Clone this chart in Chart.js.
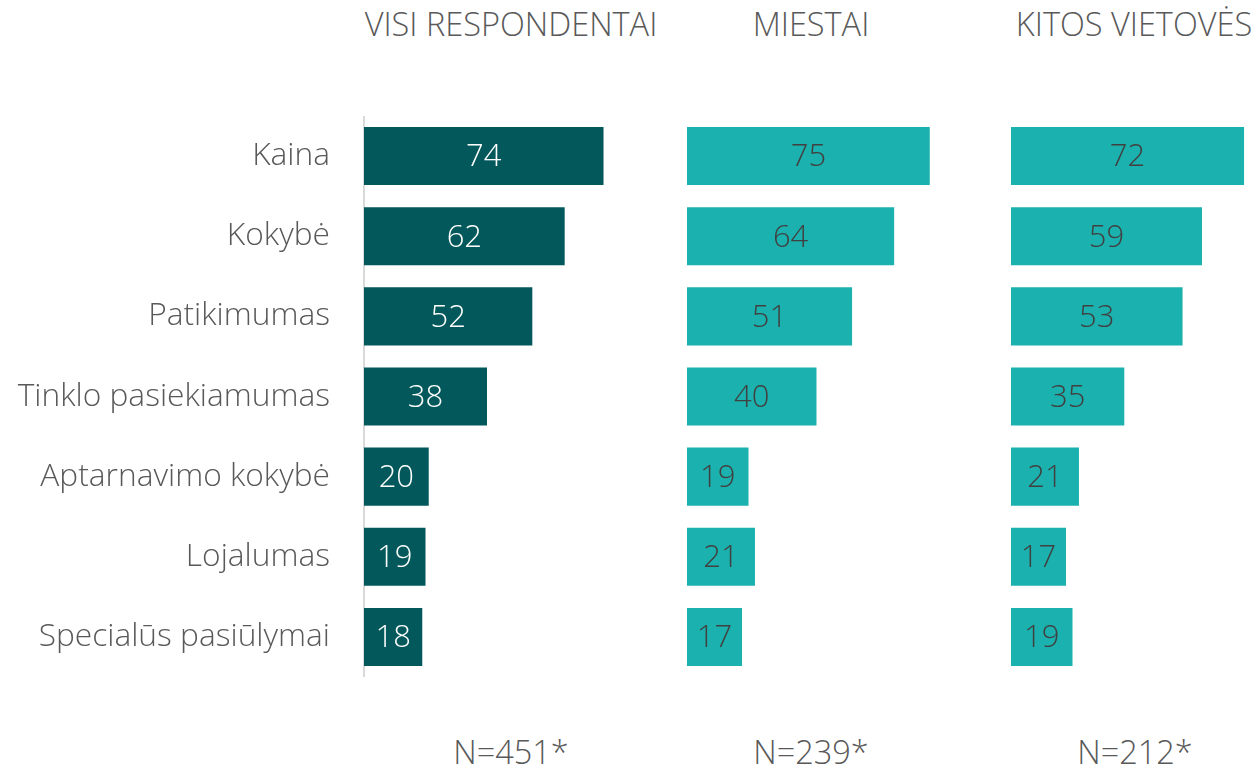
<!DOCTYPE html>
<html>
<head>
<meta charset="utf-8">
<script src="https://cdn.jsdelivr.net/npm/chart.js@4.4.1/dist/chart.umd.min.js"></script>
<style>
  body { margin: 0; background: #fff; width: 1258px; height: 771px; position: relative; overflow: hidden;
         font-family: "Open Sans", sans-serif; font-weight: 300; color: #595959; }
  canvas { position: absolute; top: 116px; }
  .title, .note { position: absolute; width: 400px; text-align: center; font-size: 32.5px; line-height: 1; white-space: nowrap; }
  .title { top: 8px; }
  .note { top: 736px; }
</style>
</head>
<body>
  <div class="title" style="left:311px">VISI RESPONDENTAI</div>
  <div class="title" style="left:611px">MIESTAI</div>
  <div class="title" style="left:934px">KITOS VIETOVĖS</div>

  <canvas id="c1" width="610" height="561" style="left:0"></canvas>
  <canvas id="c2" width="246" height="561" style="left:687px"></canvas>
  <canvas id="c3" width="246" height="561" style="left:1011px"></canvas>

  <div class="note" style="left:311px">N=451*</div>
  <div class="note" style="left:611px">N=239*</div>
  <div class="note" style="left:935px">N=212*</div>

<script>
  // duomenys
  const kategorijos = ['Kaina', 'Kokybė', 'Patikimumas', 'Tinklo pasiekiamumas', 'Aptarnavimo kokybė', 'Lojalumas', 'Specialūs pasiūlymai'];
  const visi = [74, 62, 52, 38, 20, 19, 18];
  const miestai = [75, 64, 51, 40, 19, 21, 17];
  const kitos = [72, 59, 53, 35, 21, 17, 19];

  const tamsi = '#03585B';
  const sviesi = '#1BB1AE';
  const FONT = '"Open Sans", sans-serif';

  // reiksmes ant stulpeliu
  const reiksmes = {
    id: 'reiksmes',
    afterDatasetsDraw(chart, args, opts) {
      const ctx = chart.ctx;
      const meta = chart.getDatasetMeta(0);
      ctx.save();
      ctx.font = '300 31px ' + FONT;
      ctx.fillStyle = opts.color;
      ctx.textAlign = 'center';
      ctx.textBaseline = 'middle';
      meta.data.forEach((bar, i) => {
        const x = (bar.base + bar.x) / 2;
        ctx.fillText(chart.data.datasets[0].data[i], x, bar.y + 1.5);
      });
      ctx.restore();
    }
  };

  function piesti(id, duomenys, spalva, tekstoSpalva, rodytiAsi) {
    const y = {
      display: rodytiAsi,
      grid: { display: false, drawTicks: false },
      border: { display: true, color: '#D9D9D9', width: 2 },
      ticks: { color: '#595959', padding: 34, font: { family: FONT, size: 31.7, weight: 300 } }
    };
    if (rodytiAsi) {
      y.afterFit = scale => {
        scale.width = 364;
        scale.paddingTop = 0;
        scale.paddingBottom = 0;
      };
    }

    return new Chart(document.getElementById(id), {
      type: 'bar',
      data: {
        labels: kategorijos,
        datasets: [{
          data: duomenys,
          backgroundColor: spalva,
          borderWidth: 0,
          barPercentage: 0.725,
          categoryPercentage: 1
        }]
      },
      plugins: [reiksmes],
      options: {
        indexAxis: 'y',
        responsive: false,
        animation: false,
        layout: { padding: 0 },
        plugins: {
          legend: { display: false },
          tooltip: { enabled: false },
          reiksmes: { color: tekstoSpalva }
        },
        scales: {
          x: { display: false, min: 0, max: 76 },
          y: y
        }
      }
    });
  }

  piesti('c1', visi, tamsi, '#ffffff', true);
  piesti('c2', miestai, sviesi, '#404040', false);
  piesti('c3', kitos, sviesi, '#404040', false);
</script>
</body>
</html>
